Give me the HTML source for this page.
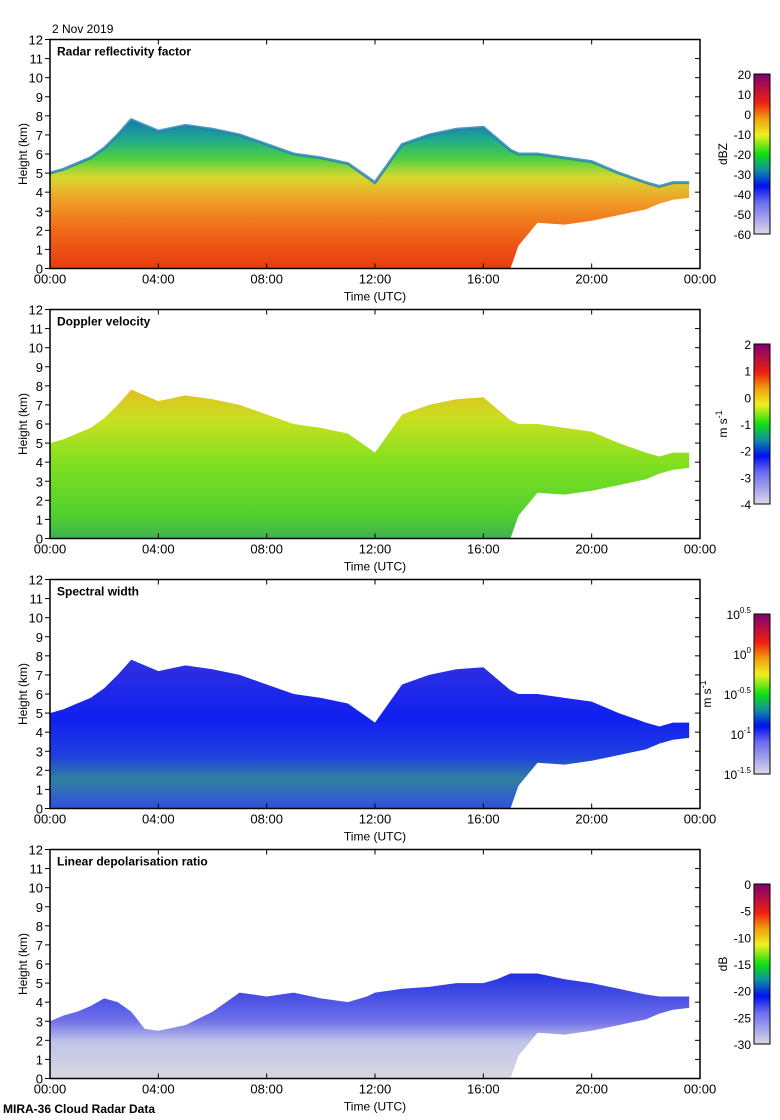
<!DOCTYPE html>
<html><head><meta charset="utf-8">
<style>
body{margin:0;background:#fff;}
svg{display:block;font-family:"Liberation Sans",sans-serif;}
</style></head>
<body>
<svg id="fig" width="780" height="1120" viewBox="0 0 780 1120" xmlns="http://www.w3.org/2000/svg">
<defs>
<linearGradient id="cmap" x1="0" y1="1" x2="0" y2="0">
<stop offset="0" stop-color="#dcd8e6"/><stop offset="0.2" stop-color="#6a6af0"/>
<stop offset="0.3" stop-color="#0010f0"/><stop offset="0.4" stop-color="#1090a0"/>
<stop offset="0.5" stop-color="#10e010"/><stop offset="0.62" stop-color="#f0f020"/>
<stop offset="0.72" stop-color="#f0a010"/><stop offset="0.82" stop-color="#f02010"/>
<stop offset="1" stop-color="#800070"/></linearGradient>
<linearGradient id="g1" gradientUnits="userSpaceOnUse" x1="0" y1="269" x2="0" y2="116">
<stop offset="0" stop-color="#e83a10"/><stop offset="0.25" stop-color="#f06818"/>
<stop offset="0.45" stop-color="#f0a028"/><stop offset="0.6" stop-color="#d8d830"/>
<stop offset="0.72" stop-color="#50d040"/><stop offset="0.85" stop-color="#20a890"/>
<stop offset="1" stop-color="#1070b0"/></linearGradient>
<linearGradient id="g2" x1="0" y1="1" x2="0" y2="0">
<stop offset="0" stop-color="#40b050"/><stop offset="0.15" stop-color="#50d030"/>
<stop offset="0.5" stop-color="#80e020"/><stop offset="0.8" stop-color="#c8e020"/>
<stop offset="1" stop-color="#e0c020"/></linearGradient>
<linearGradient id="g3" x1="0" y1="1" x2="0" y2="0">
<stop offset="0" stop-color="#3050e0"/><stop offset="0.2" stop-color="#3080a0"/>
<stop offset="0.35" stop-color="#2040e0"/><stop offset="0.6" stop-color="#1020f0"/>
<stop offset="1" stop-color="#3030e0"/></linearGradient>
<linearGradient id="g4" x1="0" y1="1" x2="0" y2="0">
<stop offset="0" stop-color="#d8d8e0"/><stop offset="0.35" stop-color="#c0c4e8"/>
<stop offset="0.55" stop-color="#7070e8"/><stop offset="1" stop-color="#2030e0"/></linearGradient>
</defs>
<text x="52" y="33" font-size="12">2 Nov 2019</text>
<text x="3" y="1113" font-size="12" font-weight="bold">MIRA-36 Cloud Radar Data</text>
<g id="panels"></g>
</svg>
<script>
// Cloud boundary data (hours UTC, heights km)
const hours=[0,0.5,1,1.5,2,2.5,3,3.5,4,5,6,7,8,9,10,11,11.7,12,12.5,13,14,15,16,16.5,17,17.3,18,19,20,21,22,22.5,23,23.6];
const cloudTop=[5,5.2,5.5,5.8,6.3,7,7.8,7.5,7.2,7.5,7.3,7,6.5,6,5.8,5.5,4.8,4.5,5.5,6.5,7,7.3,7.4,6.8,6.2,6,6,5.8,5.6,5,4.5,4.3,4.5,4.5];
const cloudBase=[0,0,0,0,0,0,0,0,0,0,0,0,0,0,0,0,0,0,0,0,0,0,0,0,0,1.2,2.4,2.3,2.5,2.8,3.1,3.4,3.6,3.7];
const ldrTop=[3,3.3,3.5,3.8,4.2,4,3.5,2.6,2.5,2.8,3.5,4.5,4.3,4.5,4.2,4,4.3,4.5,4.6,4.7,4.8,5,5,5.2,5.5,5.5,5.5,5.2,5,4.7,4.4,4.3,4.3,4.3];
const yTicks=[0,1,2,3,4,5,6,7,8,9,10,11,12];
const xTicks=[0,4,8,12,16,20,24];
const xLabels=["00:00","04:00","08:00","12:00","16:00","20:00","00:00"];
const titles=["Radar reflectivity factor","Doppler velocity","Spectral width","Linear depolarisation ratio"];
const cbUnits=["dBZ","m s-1","m s-1","dB"];
const cbTicks=[["20","10","0","-10","-20","-30","-40","-50","-60"],["2","1","0","-1","-2","-3","-4"],["0.5","0","-0.5","-1","-1.5"],["0","-5","-10","-15","-20","-25","-30"]];

const NS="http://www.w3.org/2000/svg";
const X0=50,X1=700,H=229;
const tops=[39.5,309.5,579.5,849.5];
function xs(h){return X0+(X1-X0)*h/24;}
function mk(tag,attrs,parent){const e=document.createElementNS(NS,tag);for(const k in attrs)e.setAttribute(k,attrs[k]);parent.appendChild(e);return e;}
const root=document.getElementById('panels');
tops.forEach((top,p)=>{
  const ys=v=>top+H-H*v/12;
  const g=mk('g',{},root);
  
  
  const topArr=p===3?ldrTop:cloudTop;
  let pts=hours.map((h,i)=>xs(h)+','+ys(topArr[i]));
  for(let i=hours.length-1;i>=0;i--)pts.push(xs(hours[i])+','+ys(cloudBase[i]));
  const poly=mk('polygon',{points:pts.join(' '),fill:'url(#g'+(p+1)+')'},g);
  
  
  if(p===0){
    const e=mk('polyline',{points:hours.map((h,i)=>xs(h)+','+ys(topArr[i])).join(' '),fill:'none',stroke:'#2080b0','stroke-width':3,opacity:0.8},g);
    
    
  }
  const fr=mk('rect',{x:X0,y:top,width:X1-X0,height:H,fill:'none',stroke:'#000','stroke-width':1.5},g);
  
  
  yTicks.forEach(v=>{
    const y=ys(v);
    mk('line',{x1:X0,x2:X0-5,y1:y,y2:y,stroke:'#000'},g);
    mk('line',{x1:X1,x2:X1-5,y1:y,y2:y,stroke:'#000'},g);
    const t=mk('text',{x:X0-7,y:y+5,'font-size':13,'text-anchor':'end'},g);t.textContent=v;
    
    
  });
  xTicks.forEach((h,i)=>{
    const x=xs(h);
    mk('line',{x1:x,x2:x,y1:top,y2:top+5,stroke:'#000'},g);
    mk('line',{x1:x,x2:x,y1:top+H,y2:top+H-5,stroke:'#000'},g);
    const t=mk('text',{x:x,y:top+H+15,'font-size':13,'text-anchor':'middle'},g);t.textContent=xLabels[i];
    
    
  });
  const xt=mk('text',{x:375,y:top+H+32,'font-size':12,'text-anchor':'middle'},g);xt.textContent='Time (UTC)';
  
  
  const yt=mk('text',{x:0,y:0,'font-size':12,'text-anchor':'middle',transform:'translate(27,'+(top+H/2)+') rotate(-90)'},g);yt.textContent='Height (km)';
  
  
  const tt=mk('text',{x:57,y:top+16,'font-size':12,'font-weight':'bold'},g);tt.textContent=titles[p];
  
  
  const cy=top+34.5,ch=160;
  const cb=mk('rect',{x:754,y:cy,width:16,height:ch,fill:'url(#cmap)',stroke:'#000','stroke-width':1},g);
  
  
  const tl=cbTicks[p];
  tl.forEach((s,i)=>{
    const y=cy+ch*i/(tl.length-1);
    const t=mk('text',{x:751,y:y+5,'font-size':12,'text-anchor':'end'},g);
    if(p===2){t.textContent='10';const sp=mk('tspan',{dy:-6,'font-size':8},t);sp.textContent=s;}
    else t.textContent=s;
    
    
  });
  const ux=p===2?711:727;
  const u=mk('text',{x:0,y:0,'font-size':12,'text-anchor':'middle',transform:'translate('+ux+','+(cy+ch/2)+') rotate(-90)'},g);
  if(cbUnits[p]==='m s-1'){u.textContent='m s';const sp=mk('tspan',{dy:-5,'font-size':9},u);sp.textContent='-1';}
  else u.textContent=cbUnits[p];
  
  
});
</script>
</body></html>
